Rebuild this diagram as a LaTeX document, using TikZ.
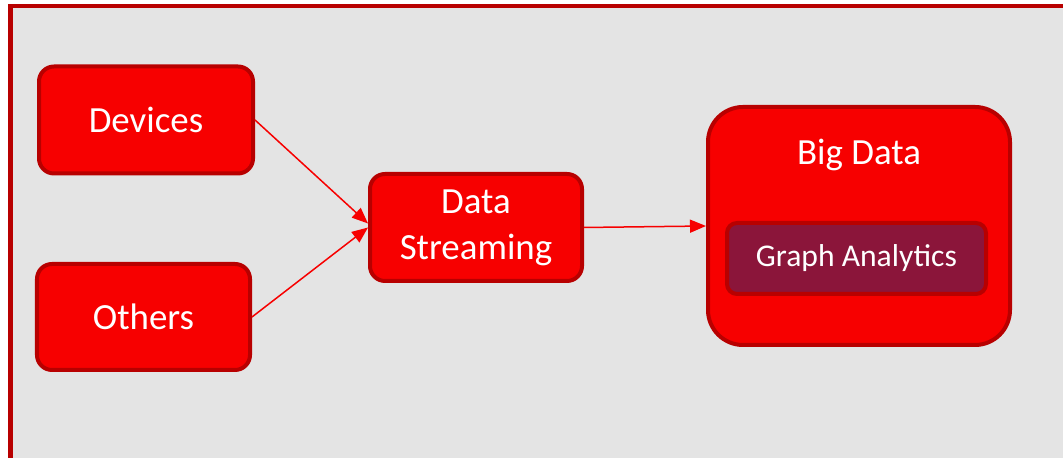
\documentclass[tikz,border=0pt]{standalone}
\usepackage{fontspec}
\setmainfont{Carlito}
\usepackage{tikz}
\usetikzlibrary{arrows.meta}

\definecolor{boxred}{RGB}{247,0,0}
\definecolor{edgered}{RGB}{184,0,0}
\definecolor{paneground}{RGB}{228,228,228}
\definecolor{graphfill}{RGB}{139,21,58}

\begin{document}
\begin{tikzpicture}[box/.style={draw=edgered, fill=boxred, line width=0.08cm, rounded corners=0.3cm,
        text=white, align=center, inner sep=0pt, font=\fontsize{21}{25}\selectfont},
    link/.style={draw=boxred, line width=0.03cm, -{Triangle[length=0.32cm,width=0.26cm]}}]
    \useasboundingbox (0,0) rectangle (21.26,9.16);
    % frame
    \draw[draw=edgered, fill=paneground, line width=0.09cm] (0.21,-1) rectangle (22.5,9.04);

    \node[box, minimum width=4.28cm, minimum height=2.14cm] (dev) at (2.92,6.76) {Devices};
    \node[box, minimum width=4.26cm, minimum height=2.12cm] (oth) at (2.87,2.82) {Others};
    \node[box, minimum width=4.24cm, minimum height=2.14cm] (ds) at (9.52,4.61) {Data\\[1pt]Streaming};
    \node[box, minimum width=6.04cm, minimum height=4.76cm, rounded corners=0.7cm] (bd) at (17.18,4.64) {};
    \node[text=white, font=\fontsize{21}{25}\selectfont] (bdl) at (17.18,6.06) {Big Data};
    \node[box, fill=graphfill, minimum width=5.18cm, minimum height=1.42cm, rounded corners=0.2cm,
        font=\fontsize{18}{22}\selectfont] (ga) at (17.13,3.99) {Graph Analytics};

    \draw[link] (dev.east) -- ([yshift=0.08cm]ds.west);
    \draw[link] (oth.east) -- (ds.west);
    \draw[link] (ds.east) -- (bd.west);
\end{tikzpicture}
\end{document}
